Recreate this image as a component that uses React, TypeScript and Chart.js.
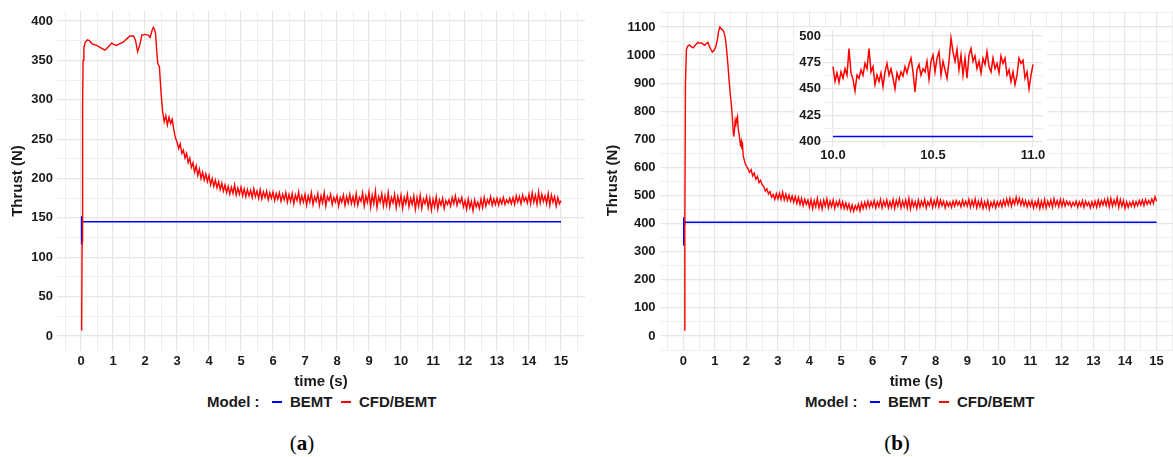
import React, { useEffect, useRef } from "react";
import { Chart, registerables } from "chart.js";

Chart.register(...registerables);

// ---------- text ----------
const SERIES_NAMES = ["BEMT", "CFD/BEMT"];
const LEGEND_TITLE = "Model :";
const X_TITLE = "time (s)";
const Y_TITLE = "Thrust (N)";
const PANEL_LETTERS = ["a", "b"];

// ---------- ticks ----------
const xMajorMain = [0, 1, 2, 3, 4, 5, 6, 7, 8, 9, 10, 11, 12, 13, 14, 15];
const xMinorMain = [-0.5, 0.5, 1.5, 2.5, 3.5, 4.5, 5.5, 6.5, 7.5, 8.5, 9.5, 10.5, 11.5, 12.5, 13.5, 14.5, 15.5];
const yMajorA = [0, 50, 100, 150, 200, 250, 300, 350, 400];
const yMinorA = [25, 75, 125, 175, 225, 275, 325, 375];
const yMajorB = [0, 100, 200, 300, 400, 500, 600, 700, 800, 900, 1000, 1100];
const yMinorB = [-50, 50, 150, 250, 350, 450, 550, 650, 750, 850, 950, 1050, 1150];
const xMajorInset = [10, 10.5, 11];
const xMinorInset = [10.25, 10.75];
const yMajorInset = [400, 425, 450, 475, 500];
const yMinorInset = [412.5, 437.5, 462.5, 487.5];

// ---------- data: panel (a) ----------
const bemtA_t = [0, 0.01, 0.02, 0.03, 0.05, 15];
const bemtA_v = [117, 152, 141, 147, 145, 145];

const cfdA_startT = [0.02, 0.035, 0.05, 0.065, 0.09, 0.13, 0.2, 0.26, 0.35, 0.49, 0.62, 0.75, 0.85, 0.96, 1.04, 1.11, 1.2, 1.32, 1.42, 1.53, 1.64, 1.7, 1.77, 1.84, 1.9, 2.0, 2.1, 2.16, 2.22, 2.26, 2.3, 2.33, 2.37, 2.4, 2.45];
const cfdA_startV = [7, 120, 290, 350, 366, 373, 376, 375, 371, 369, 366, 363, 367, 372, 370, 369, 371, 373, 377, 381, 381, 376, 361, 370, 382, 383, 382, 379, 388, 392, 389, 384, 360, 346, 342];

const SAMPLE_STEP = 0.05;
const cfdA_steadyStart = 2.5;
const cfdA_steadyV = [
  310, 285, 272, 280, 268, 278, 270, 275, 262, 252,
  246, 238, 244, 232, 236, 226, 232, 220, 226, 214,
  220, 208, 216, 204, 212, 200, 208, 198, 206, 196,
  204, 192, 200, 190, 198, 188, 196, 186, 194, 184,
  192, 182, 190, 180, 189, 181, 192, 179, 188, 180,
  189, 178, 187, 177, 186, 178, 185, 176, 187, 177,
  184, 175, 186, 174, 183, 176, 184, 173, 182, 175,
  183, 172, 181, 174, 182, 171, 180, 173, 182, 170,
  180, 171, 181, 168, 179, 172, 183, 169, 178, 170,
  180, 166, 178, 170, 182, 167, 177, 171, 181, 166,
  178, 169, 182, 165, 177, 172, 180, 167, 176, 170,
  178, 165, 176, 170, 179, 166, 177, 169, 180, 168,
  177, 167, 181, 166, 176, 171, 182, 165, 178, 170,
  183, 164, 179, 168, 184, 163, 177, 170, 181, 165,
  178, 166, 182, 164, 176, 169, 180, 163, 177, 167,
  179, 162, 176, 168, 180, 164, 175, 167, 178, 161,
  176, 165, 179, 162, 174, 168, 177, 163, 175, 160,
  174, 164, 177, 161, 173, 166, 175, 162, 172, 167,
  173, 165, 176, 168, 178, 166, 174, 169, 176, 164,
  172, 161, 174, 163, 171, 159, 173, 164, 170, 162,
  174, 163, 176, 165, 173, 168, 177, 166, 174, 167,
  175, 166, 174, 168, 176, 167, 173, 169, 175, 168,
  176, 167, 178, 170, 177, 168, 179, 171, 176, 169,
  180, 168, 182, 170, 179, 167, 183, 169, 180, 171,
  178, 168, 181, 166, 179, 170, 177, 165, 176, 168,
  172,
];

// ---------- data: panel (b) ----------
const bemtB_t = [0, 0.01, 0.02, 0.03, 0.05, 15];
const bemtB_v = [324, 422, 395, 410, 405, 405];

const cfdB_startT = [0.03, 0.05, 0.07, 0.1, 0.14, 0.19, 0.25, 0.32, 0.4, 0.46, 0.52, 0.57, 0.62, 0.67, 0.72, 0.78, 0.85, 0.92, 0.98, 1.03, 1.08, 1.12, 1.16, 1.2, 1.24, 1.28, 1.31, 1.34, 1.37, 1.42, 1.46, 1.5, 1.53, 1.56, 1.58, 1.6, 1.62, 1.64, 1.66, 1.68, 1.7, 1.72, 1.74, 1.77, 1.8, 1.82, 1.84, 1.86, 1.88, 1.9, 1.93, 1.96, 2.0];
const cfdB_startV = [21, 400, 900, 1020, 1032, 1036, 1030, 1026, 1038, 1045, 1042, 1044, 1040, 1035, 1040, 1045, 1025, 1011, 1018, 1030, 1055, 1085, 1100, 1093, 1091, 1085, 1072, 1055, 1024, 959, 900, 850, 816, 770, 733, 710, 728, 760, 745, 772, 765, 778, 740, 718, 690, 674, 690, 665, 678, 640, 628, 614, 605];

const cfdB_steadyStart = 2.05;
const cfdB_steadyV = [
  596, 582, 592, 570, 580, 558, 568, 546, 554, 538,
  532, 516, 524, 506, 514, 494, 504, 486, 507, 488,
  508, 486, 512, 484, 505, 482, 502, 480, 498, 476,
  497, 472, 494, 468, 490, 464, 487, 468, 484, 458,
  486, 454, 482, 460, 490, 456, 480, 452, 484, 462,
  488, 456, 480, 460, 484, 454, 478, 462, 482, 456,
  478, 454, 474, 452, 470, 446, 466, 444, 464, 450,
  470, 446, 474, 454, 476, 456, 480, 458, 478, 460,
  482, 456, 478, 460, 486, 456, 480, 462, 484, 456,
  478, 458, 486, 454, 482, 462, 488, 456, 480, 460,
  484, 456, 490, 452, 482, 460, 478, 454, 484, 458,
  480, 462, 486, 456, 478, 464, 488, 458, 482, 462,
  490, 460, 484, 464, 480, 456, 478, 462, 476, 458,
  480, 462, 482, 466, 478, 460, 484, 464, 480, 462,
  486, 458, 482, 462, 488, 456, 480, 460, 484, 454,
  478, 458, 482, 452, 476, 460, 480, 456, 478, 462,
  480, 460, 484, 464, 488, 466, 490, 462, 486, 468,
  494, 470, 490, 466, 486, 464, 482, 460, 480, 462,
  482, 456, 478, 460, 484, 454, 480, 458, 486, 456,
  480, 462, 484, 458, 488, 464, 482, 460, 486, 462,
  484, 462, 480, 466, 478, 460, 476, 464, 480, 458,
  478, 462, 482, 458, 480, 464, 476, 456, 478, 460,
  480, 458, 484, 462, 482, 466, 486, 464, 488, 460,
  490, 462, 484, 466, 492, 458, 486, 462, 482, 454,
  478, 458, 476, 462, 480, 460, 478, 464, 482, 466,
  484, 464, 486, 468, 482, 470, 488, 472, 496, 480,
];

// ---------- data: inset of (b), 10 s to 11 s ----------
const inset_t0 = 10;
const INSET_STEP = 0.01;
const insetCfdV = [
  471, 457, 465, 456, 466, 460, 469, 463, 488, 465,
  459, 448, 463, 460, 468, 463, 474, 469, 488, 466,
  471, 454, 463, 457, 465, 452, 466, 474, 463, 469,
  460, 450, 465, 459, 466, 462, 471, 465, 473, 479,
  466, 447, 468, 473, 463, 469, 466, 476, 459, 476,
  482, 466, 479, 485, 463, 476, 468, 460, 476, 498,
  485, 476, 487, 468, 482, 463, 479, 460, 482, 488,
  476, 481, 469, 476, 465, 479, 473, 485, 471, 466,
  479, 469, 474, 465, 481, 474, 479, 463, 468, 457,
  466, 454, 463, 479, 474, 477, 460, 466, 450, 463,
  473,
];
const insetBemt_t = [10, 11];
const insetBemt_v = [405, 405];

// ---------- styling ----------
const BLUE = "#0000FF";
const RED = "#FF0000";
const TEXT = "#1a1a1a";
const SANS = '"Liberation Sans", Arial, Helvetica, sans-serif';
const SERIF = '"Liberation Serif", "DejaVu Serif", serif';

const pairs = (ts: number[], vs: number[]) => ts.map((t, i) => ({ x: t, y: vs[i] }));
const sampled = (t0: number, step: number, vs: number[]) =>
  vs.map((v, i) => ({ x: Math.round((t0 + i * step) * 1000) / 1000, y: v }));

type PanelCfg = {
  xMin: number; xMax: number; yMin: number; yMax: number;
  xMajor: number[]; xMinor: number[]; yMajor: number[]; yMinor: number[];
  xFmt: (v: number) => string;
  yWidth: number; xHeight: number;
  padding: { top: number; right: number; bottom: number; left: number };
  titles: boolean; tickPadX: number; tickPadY: number;
  datasets: any[];
};

const near = (arr: number[], v: number) => arr.some((a) => Math.abs(a - v) < 1e-6);

function createChart(canvas: HTMLCanvasElement, c: PanelCfg) {
  const allX = [...c.xMajor, ...c.xMinor].sort((a, b) => a - b);
  const allY = [...c.yMajor, ...c.yMinor].sort((a, b) => a - b);
  const tickFont = { family: SANS, size: 13, weight: "bold" as const };
  const titleFont = { family: SANS, size: 15, weight: "bold" as const };
  const gridFor = (major: number[]) => ({
    drawTicks: false,
    color: (ctx: any) => (ctx.tick && near(major, ctx.tick.value) ? "#E6E6E6" : "#EFEFEF"),
    lineWidth: (ctx: any) => (ctx.tick && near(major, ctx.tick.value) ? 1.2 : 1),
  });
  const zeroPad = (s: any) => {
    s.paddingTop = 0; s.paddingBottom = 0; s.paddingLeft = 0; s.paddingRight = 0;
  };
  return new Chart(canvas, {
    type: "line",
    data: { datasets: c.datasets },
    options: {
      responsive: false,
      animation: false,
      events: [],
      layout: { padding: c.padding },
      plugins: { legend: { display: false }, tooltip: { enabled: false } },
      elements: { point: { radius: 0 }, line: { tension: 0 } },
      scales: {
        x: {
          type: "linear",
          min: c.xMin,
          max: c.xMax,
          afterBuildTicks: (s: any) => { s.ticks = allX.map((v) => ({ value: v })); },
          afterFit: (s: any) => { s.height = c.xHeight; zeroPad(s); },
          ticks: {
            autoSkip: false, maxRotation: 0, minRotation: 0, padding: c.tickPadX,
            font: tickFont, color: TEXT,
            callback: (v: any) => (near(c.xMajor, Number(v)) ? c.xFmt(Number(v)) : ""),
          },
          grid: gridFor(c.xMajor),
          border: { display: false },
          title: {
            display: c.titles, text: X_TITLE, font: titleFont, color: TEXT,
            padding: { top: 0, bottom: 1 },
          },
        },
        y: {
          type: "linear",
          min: c.yMin,
          max: c.yMax,
          afterBuildTicks: (s: any) => { s.ticks = allY.map((v) => ({ value: v })); },
          afterFit: (s: any) => { s.width = c.yWidth; zeroPad(s); },
          ticks: {
            autoSkip: false, padding: c.tickPadY, font: tickFont, color: TEXT,
            callback: (v: any) => (near(c.yMajor, Number(v)) ? String(v) : ""),
          },
          grid: gridFor(c.yMajor),
          border: { display: false },
          title: {
            display: c.titles, text: Y_TITLE, font: titleFont, color: TEXT,
            padding: { top: 9, bottom: 0 },
          },
        },
      },
    } as any,
  });
}

function ChartBox(props: { cfg: PanelCfg; left: number; top: number; width: number; height: number; bg?: string }) {
  const ref = useRef<HTMLCanvasElement>(null);
  useEffect(() => {
    const chart = createChart(ref.current as HTMLCanvasElement, props.cfg);
    return () => chart.destroy();
  }, []);
  return (
    <canvas
      ref={ref}
      width={props.width}
      height={props.height}
      style={{
        position: "absolute", left: props.left, top: props.top,
        width: props.width, height: props.height, background: props.bg || "transparent",
      }}
    />
  );
}

const lineDs = (label: string, data: any[], color: string, width: number) => ({
  label, data, borderColor: color, backgroundColor: color, borderWidth: width,
  pointRadius: 0, fill: false, tension: 0,
});

const cfgA: PanelCfg = {
  xMin: -0.75, xMax: 15.75, yMin: -19, yMax: 412.7,
  xMajor: xMajorMain, xMinor: xMinorMain, yMajor: yMajorA, yMinor: yMinorA,
  xFmt: (v) => String(v),
  yWidth: 57, xHeight: 41,
  padding: { top: 11, right: 5, bottom: 0, left: 0 },
  titles: true, tickPadX: 2.2, tickPadY: 4,
  datasets: [
    lineDs(SERIES_NAMES[1], [...pairs(cfdA_startT, cfdA_startV), ...sampled(cfdA_steadyStart, SAMPLE_STEP, cfdA_steadyV)], RED, 1.4),
    lineDs(SERIES_NAMES[0], pairs(bemtA_t, bemtA_v), BLUE, 1.5),
  ],
};

const cfgB: PanelCfg = {
  xMin: -0.75, xMax: 15.52, yMin: -50, yMax: 1157,
  xMajor: xMajorMain, xMinor: xMinorMain, yMajor: yMajorB, yMinor: yMinorB,
  xFmt: (v) => String(v),
  yWidth: 64.6, xHeight: 42,
  padding: { top: 11, right: 0, bottom: 0, left: 0 },
  titles: true, tickPadX: 3.2, tickPadY: 4,
  datasets: [
    lineDs(SERIES_NAMES[1], [...pairs(cfdB_startT, cfdB_startV), ...sampled(cfdB_steadyStart, SAMPLE_STEP, cfdB_steadyV)], RED, 1.4),
    lineDs(SERIES_NAMES[0], pairs(bemtB_t, bemtB_v), BLUE, 1.5),
  ],
};

const cfgInset: PanelCfg = {
  xMin: 9.95, xMax: 11.05, yMin: 395.3, yMax: 505.6,
  xMajor: xMajorInset, xMinor: xMinorInset, yMajor: yMajorInset, yMinor: yMinorInset,
  xFmt: (v) => v.toFixed(1),
  yWidth: 29, xHeight: 20.3,
  padding: { top: 3, right: 4, bottom: 0, left: 0 },
  titles: false, tickPadX: 0.5, tickPadY: 2,
  datasets: [
    lineDs(SERIES_NAMES[1], sampled(inset_t0, INSET_STEP, insetCfdV), RED, 1.5),
    lineDs(SERIES_NAMES[0], pairs(insetBemt_t, insetBemt_v), BLUE, 1.5),
  ],
};

const LEGEND_OFFSETS = [0, 65, 83, 134, 152];

function Legend(props: { left: number }) {
  const base: React.CSSProperties = {
    position: "absolute", top: 393, height: 18, lineHeight: "18px",
    font: `bold 15px ${SANS}`, color: TEXT, whiteSpace: "nowrap",
  };
  const dash = (color: string, off: number): React.CSSProperties => ({
    position: "absolute", left: props.left + off, top: 401, width: 10, height: 2, background: color,
  });
  return (
    <>
      <div style={{ ...base, left: props.left + LEGEND_OFFSETS[0] }}>{LEGEND_TITLE}</div>
      <div style={dash(BLUE, LEGEND_OFFSETS[1])} />
      <div style={{ ...base, left: props.left + LEGEND_OFFSETS[2] }}>{SERIES_NAMES[0]}</div>
      <div style={dash(RED, LEGEND_OFFSETS[3])} />
      <div style={{ ...base, left: props.left + LEGEND_OFFSETS[4] }}>{SERIES_NAMES[1]}</div>
    </>
  );
}

function Caption(props: { center: number; letter: string }) {
  return (
    <div
      style={{
        position: "absolute", left: props.center, top: 430, transform: "translateX(-50%)",
        font: `21px ${SERIF}`, lineHeight: "26px", color: "#000", whiteSpace: "nowrap",
      }}
    >
      (<b>{props.letter}</b>)
    </div>
  );
}

export default function App() {
  return (
    <div
      style={{
        position: "absolute", left: 0, top: 0, width: 1173, height: 457,
        background: "#fff", overflow: "hidden",
      }}
    >
      <ChartBox cfg={cfgA} left={0} top={0} width={590} height={392} />
      <ChartBox cfg={cfgB} left={595} top={0} width={578} height={392} />
      <ChartBox cfg={cfgInset} left={794} top={27} width={253} height={140} bg="#ffffff" />
      <Legend left={207} />
      <Legend left={805} />
      <Caption center={302} letter={PANEL_LETTERS[0]} />
      <Caption center={897} letter={PANEL_LETTERS[1]} />
    </div>
  );
}
